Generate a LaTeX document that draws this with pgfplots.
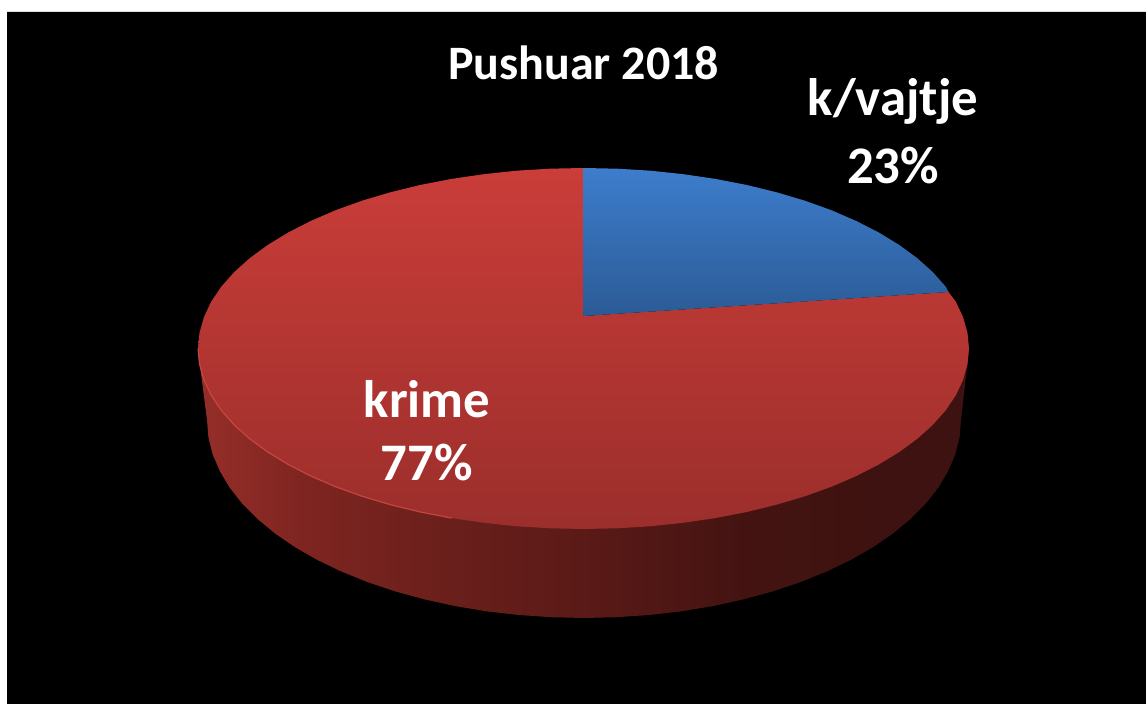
\documentclass[border=0pt]{standalone}
\usepackage{pgfplots}
\pgfplotsset{compat=1.18}
\usepackage{fontspec}
\setmainfont{Carlito}
\definecolor{wa}{HTML}{962E29}
\definecolor{wb}{HTML}{7F2521}
\definecolor{wc}{HTML}{6A1F1B}
\definecolor{wd}{HTML}{5A1A17}
\definecolor{we}{HTML}{431311}
\definecolor{wf}{HTML}{3E1210}
\definecolor{redtop}{HTML}{CA3D39}
\definecolor{redbot}{HTML}{9B2E2B}
\definecolor{bluetop}{HTML}{3D7DCC}
\definecolor{bluebot}{HTML}{2B5B96}
\definecolor{rim}{HTML}{D04C46}
\pgfdeclarehorizontalshading{wall}{100bp}{color(0bp)=(wa); color(25bp)=(wa); color(31.6bp)=(wb); color(41.3bp)=(wc); color(50.1bp)=(wd); color(60.8bp)=(we); color(68.6bp)=(wf); color(75bp)=(wf); color(100bp)=(wf)}
\begin{document}
\begin{tikzpicture}
\begin{axis}[scale only axis, width=573pt, height=352pt, hide axis,
  xmin=0, xmax=1146, ymin=0, ymax=704, y dir=reverse, clip=true, no markers]
% page and black ground
\addplot[fill=white, draw=none] coordinates {(0,0) (1146,0) (1146,704) (0,704) (0,0)};
\addplot[fill=black, draw=none] coordinates {(7,12) (1146,12) (1146,704) (7,704) (7,12)};
% side wall
\addplot[shade, shading=wall, draw=none] coordinates {
(969,350) (961,420) (959.6,437.3) (955.3,454.4) (948.1,471.2) (938.3,487.7) (925.7,503.7)
(910.5,519) (892.8,533.6) (872.8,547.3) (850.6,560) (826.3,571.7) (800.2,582.2) (772.5,591.5)
(743.3,599.4) (712.9,606.1) (681.6,611.3) (649.5,615) (616.9,617.2) (584,618) (551.1,617.2)
(518.5,615) (486.4,611.3) (455.1,606.1) (424.7,599.4) (395.5,591.5) (367.8,582.2) (341.7,571.7)
(317.4,560) (295.2,547.3) (275.2,533.6) (257.5,519) (242.3,503.7) (229.7,487.7) (219.9,471.2)
(212.7,454.4) (208.4,437.3) (207,420) (198,350) (969,350)};
% krime 77%
\addplot[top color=redtop, bottom color=redbot, draw=none] coordinates {
(948.5,292) (955.9,301.8) (963.1,317.2) (967.5,332.8) (969,348.5) (967.5,364.2) (963.1,379.8)
(955.9,395.2) (945.8,410.2) (932.9,424.8) (917.3,438.8) (899.3,452.0) (878.8,464.5) (856.1,476.1)
(831.3,486.8) (804.6,496.4) (776.3,504.8) (746.4,512.1) (715.3,518.1) (683.3,522.8) (650.4,526.3)
(617.1,528.3) (583.5,529) (549.9,528.3) (516.6,526.3) (483.7,522.8) (451.7,518.1) (420.6,512.1)
(390.7,504.8) (362.4,496.4) (335.7,486.8) (310.9,476.1) (288.2,464.5) (267.7,452.0) (249.7,438.8)
(234.1,424.8) (221.2,410.2) (211.1,395.2) (203.9,379.8) (199.5,364.2) (198,348.5) (199.5,332.8)
(203.9,317.2) (211.1,301.8) (221.2,286.8) (234.1,272.2) (249.7,258.2) (267.7,245.0) (288.2,232.5)
(310.9,220.9) (335.7,210.2) (362.4,200.6) (390.7,192.2) (420.6,184.9) (451.7,178.9) (483.7,174.2)
(516.6,170.7) (549.9,168.7) (583.5,168) (583.5,316) (948.5,292)};
% k/vajtje 23%
\addplot[top color=bluetop, bottom color=bluebot, draw=none] coordinates {
(583.5,168) (617.1,168.7) (650.4,170.7) (683.3,174.2) (715.3,178.9) (746.4,184.9) (776.3,192.2)
(804.6,200.6) (831.3,210.2) (856.1,220.9) (878.8,232.5) (899.3,245.0) (917.3,258.2) (932.9,272.2)
(945.8,286.8) (948.5,292) (583.5,316) (583.5,168)};
% light rim on the lower left edge
\addplot[draw=rim, line width=0.6pt, opacity=0.8] coordinates {
(451.7,518.1) (420.6,512.1) (390.7,504.8) (362.4,496.4) (335.7,486.8) (310.9,476.1) (288.2,464.5)
(267.7,452.0) (249.7,438.8) (234.1,424.8) (221.2,410.2) (211.1,395.2) (203.9,379.8) (199.5,364.2) (198,348.5)};
\node[text=white, font=\bfseries\fontsize{24}{29}\selectfont] at (axis cs:583.5,63) {Pushuar 2018};
\node[text=white, font=\bfseries\fontsize{26.4}{32}\selectfont] at (axis cs:893,101) {k/vajtje};
\node[text=white, font=\bfseries\fontsize{26.4}{32}\selectfont] at (axis cs:893,166) {23\%};
\node[text=white, font=\bfseries\fontsize{26.4}{32}\selectfont] at (axis cs:427,399) {krime};
\node[text=white, font=\bfseries\fontsize{26.4}{32}\selectfont] at (axis cs:427,463) {77\%};
\end{axis}
\end{tikzpicture}
\end{document}
